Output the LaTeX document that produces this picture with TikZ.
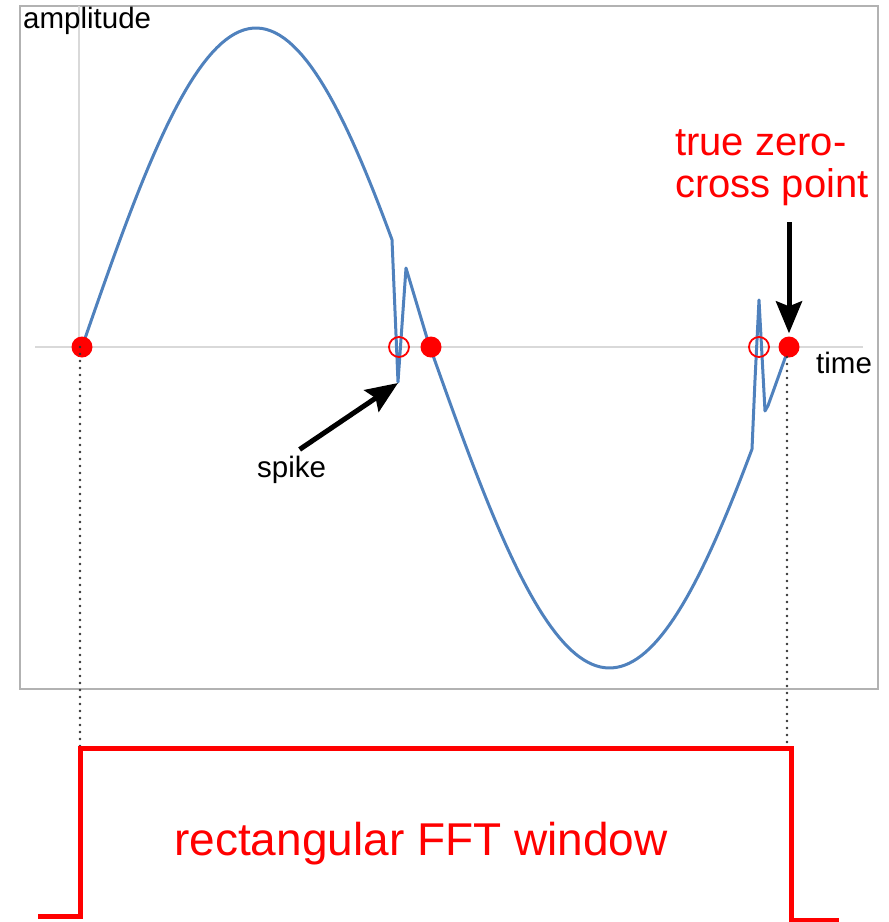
\documentclass[tikz,border=0pt]{standalone}
\usepackage{fontspec}
\setmainfont{Liberation Sans}
\usetikzlibrary{arrows.meta}
\definecolor{sigblue}{RGB}{79,129,189}
\begin{document}
\begin{tikzpicture}[
    x=1pt, y=-1pt,
    every node/.style={inner sep=0pt, font=\fontsize{29.5}{34}\selectfont},
    frame/.style={draw=gray!60, line width=2.2pt},
    axis/.style={draw=gray!30, line width=1.2pt},
    signal/.style={draw=sigblue, line width=3pt, line join=round},
    zerodot/.style={circle, fill=red, minimum size=21pt},
    falsedot/.style={circle, draw=red, line width=1.8pt, minimum size=20pt},
    dotline/.style={black!80, line width=2.6pt, dash pattern=on 0pt off 7pt, line cap=round},
    window/.style={red, line width=5pt, line join=miter},
    arr/.style={line width=5pt, -{Stealth[length=32pt, width=26pt, inset=5pt]}}
]
    \useasboundingbox (0,0) rectangle (889,922);

    % Plot area and axes
    \draw[frame] (20,6) rectangle (878,689);
    \draw[axis] (79,6) -- (79,347);
    \draw[axis] (35,347) -- (863,347);

    % Signal with the two spikes
    \draw[signal]
        plot[domain=82:392, samples=70] (\x, {347-319*sin((\x-82)/348*180)})
        -- (398,382) -- (406,268)
        -- plot[domain=428:752, samples=80] (\x, {347+321*sin((\x-430)/359*180)})
        -- (755,380) -- (759,300) -- (765,411)
        -- plot[domain=768:789, samples=5] (\x, {347+321*sin((\x-430)/359*180)});

    % Window edges
    \coordinate (wleft) at (80,748);
    \coordinate (wright) at (791,748);

    % Zero crossings
    \node[zerodot] (z1) at (82,347) {};
    \node[zerodot] (z2) at (431,347) {};
    \node[zerodot] (z3) at (789,347) {};
    \node[falsedot] (f1) at (399,347) {};
    \node[falsedot] (f2) at (759,347) {};

    \draw[dotline] (wleft |- z1) -- (wleft);
    \draw[dotline] (787,357) -- (787,748);

    % Labels
    \node[anchor=base west] (amp) at (23,28) {amplitude};
    \node[anchor=base west] (time) at (816,373) {time};
    \node[anchor=base west] (spike) at (257,477) {spike};
    \node[anchor=base west, align=left, text=red,
        font=\fontsize{40}{42}\selectfont] (zerolbl) at (675,197)
        {true zero-\\cross point};
    \node[anchor=base, text=red, font=\fontsize{46}{52}\selectfont]
        (winlbl) at (421,855) {rectangular FFT window};

    % Arrows
    \coordinate (spiketip) at (398,383);
    \draw[arr] ([xshift=8pt, yshift=6pt]spike.north) -- (spiketip);
    \draw[arr] (z3 |- 0,222) -- ([yshift=3pt]z3.north);

    % Rectangular window
    \draw[window] (38,916) -- (wleft |- 0,916) -- (wleft) -- (wright)
        -- (wright |- 0,920) -- (839,920);

\end{tikzpicture}
\end{document}
